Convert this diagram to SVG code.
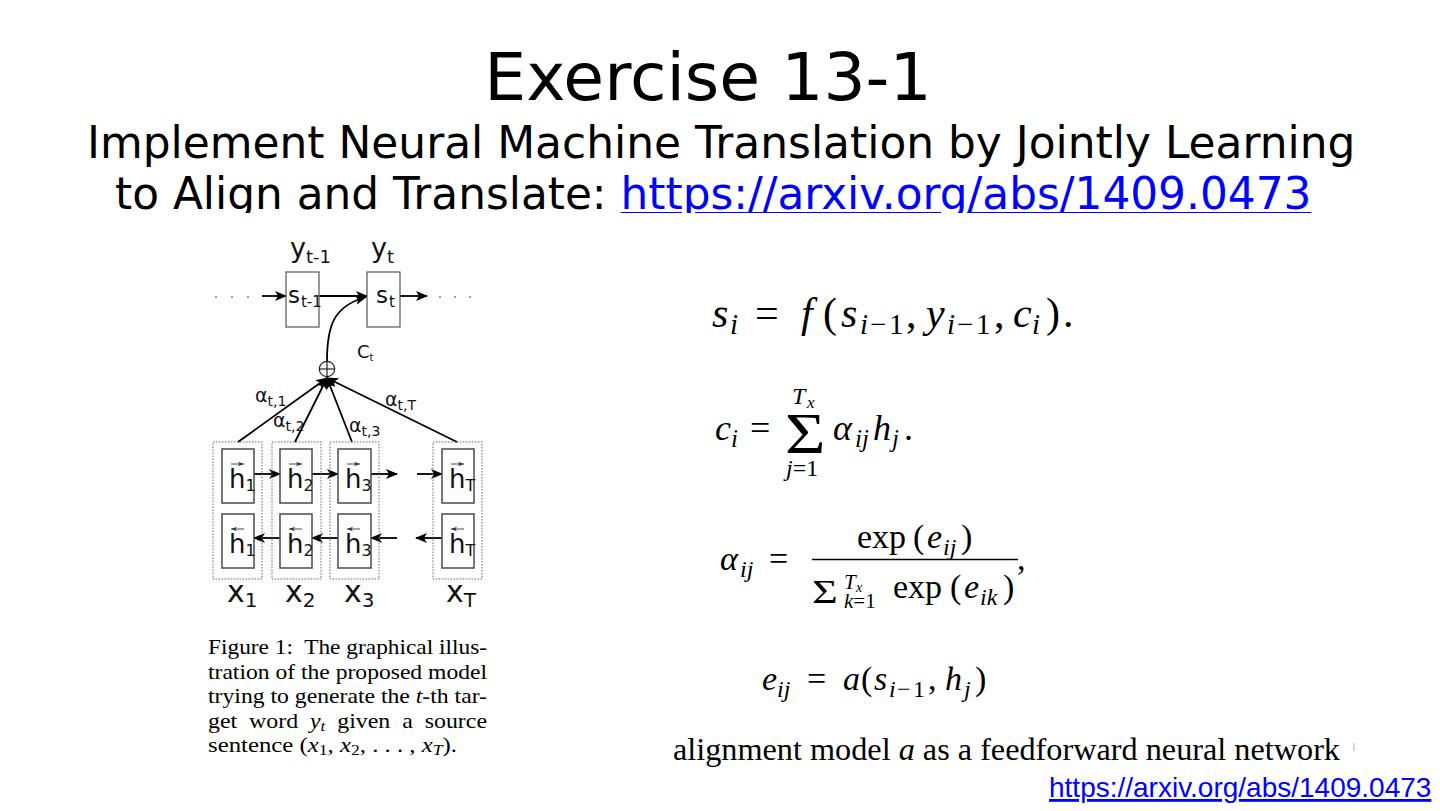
<svg xmlns="http://www.w3.org/2000/svg" width="1440" height="811" viewBox="0 0 1440 811">
<defs>
<style>
.sans{font-family:"DejaVu Sans","Liberation Sans",sans-serif;}
.serif{font-family:"Liberation Serif","Times New Roman",serif;fill:#000;}
.it{font-style:italic;}
.fig{font-family:"DejaVu Sans","Liberation Sans",sans-serif;fill:#111;}
.ibox{fill:#fff;stroke:#555;stroke-width:1.6;}
.obox{fill:none;stroke:#666;stroke-width:1;stroke-dasharray:1.5 1.5;}
.ln{fill:none;stroke:#000;stroke-width:1.8;}
.tl{fill:none;stroke:#333;stroke-width:0.9;}
.link{fill:#0000ff;text-decoration:underline;}
.dot{fill:#888;}
</style>
<marker id="ah" viewBox="0 0 12 10" refX="11" refY="5" markerWidth="12" markerHeight="10" markerUnits="userSpaceOnUse" orient="auto"><path d="M0,0 L12,5 L0,10 L3,5 z" fill="#000"/></marker>
<marker id="sa" viewBox="0 0 8 6" refX="8" refY="3" markerWidth="6" markerHeight="4.5" markerUnits="userSpaceOnUse" orient="auto"><path d="M0,0 L8,3 L0,6 L2,3 z" fill="#333"/></marker>
<clipPath id="clipT"><rect x="0" y="0" width="1440" height="213"/></clipPath>
</defs>
<rect width="1440" height="811" fill="#fff"/>

<g id="title" class="sans">
<text x="708" y="100" font-size="66.3" text-anchor="middle" fill="#000">Exercise 13-1</text>
<g clip-path="url(#clipT)">
<text x="87" y="158" font-size="43.9" fill="#000">Implement Neural Machine Translation by Jointly Learning</text>
<text x="115" y="209" font-size="43.8" fill="#000" xml:space="preserve">to Align and Translate: <tspan class="link">https://arxiv.org/abs/1409.0473</tspan></text>
</g>
</g>

<g id="figure">
<g id="connectors">
<circle class="dot" cx="216" cy="297" r="1.1"/><circle class="dot" cx="232" cy="297" r="1.1"/><circle class="dot" cx="248" cy="297" r="1.1"/>
<circle class="dot" cx="440" cy="297" r="1.1"/><circle class="dot" cx="455" cy="297" r="1.1"/><circle class="dot" cx="470" cy="297" r="1.1"/>
<line class="ln" x1="262" y1="296" x2="286" y2="296" marker-end="url(#ah)"/>
<line class="ln" x1="319" y1="296" x2="367" y2="296" marker-end="url(#ah)"/>
<line class="ln" x1="400" y1="296" x2="427" y2="296" marker-end="url(#ah)"/>
<path class="ln" d="M327,361 C327,325 334,306 366,297" marker-end="url(#ah)"/>
<line class="ln" x1="238" y1="442" x2="327" y2="378" marker-end="url(#ah)"/>
<line class="ln" x1="295" y1="442" x2="327" y2="378" marker-end="url(#ah)"/>
<line class="ln" x1="352" y1="442" x2="327" y2="378" marker-end="url(#ah)"/>
<line class="ln" x1="457" y1="442" x2="327" y2="378" marker-end="url(#ah)"/>
<line class="ln" x1="254" y1="474" x2="280" y2="474" marker-end="url(#ah)"/>
<line class="ln" x1="312" y1="474" x2="338" y2="474" marker-end="url(#ah)"/>
<line class="ln" x1="371" y1="474" x2="397" y2="474" marker-end="url(#ah)"/>
<line class="ln" x1="417" y1="474" x2="442" y2="474" marker-end="url(#ah)"/>
<line class="ln" x1="280" y1="538" x2="254" y2="538" marker-end="url(#ah)"/>
<line class="ln" x1="338" y1="538" x2="312" y2="538" marker-end="url(#ah)"/>
<line class="ln" x1="397" y1="538" x2="371" y2="538" marker-end="url(#ah)"/>
<line class="ln" x1="442" y1="538" x2="416" y2="538" marker-end="url(#ah)"/>
</g>

<g id="node-st1">
<rect x="286" y="272" width="33" height="55" fill="#fff" stroke="#555" stroke-width="1.2"/>
<text class="fig" x="288" y="303" font-size="23">s<tspan font-size="15" dy="4" dx="1">t-1</tspan></text>
<text class="fig" x="290" y="257" font-size="27">y<tspan font-size="18" dy="6">t-1</tspan></text>
</g>
<g id="node-st">
<rect x="367" y="272" width="33" height="55" fill="#fff" stroke="#555" stroke-width="1.2"/>
<text class="fig" x="376" y="303" font-size="23">s<tspan font-size="15" dy="4" dx="1">t</tspan></text>
<text class="fig" x="371" y="257" font-size="27">y<tspan font-size="18" dy="6">t</tspan></text>
</g>
<g id="node-sum">
<circle cx="327" cy="369" r="7.7" fill="#fff" stroke="#222" stroke-width="1.2"/>
<line x1="319.3" y1="369" x2="334.7" y2="369" stroke="#222" stroke-width="1.2"/>
<line x1="327" y1="361.3" x2="327" y2="376.7" stroke="#222" stroke-width="1.2"/>
<text class="fig" x="357" y="358" font-size="18">C<tspan font-size="10" dy="3">t</tspan></text>
</g>
<g id="alpha-labels">
<text class="fig" x="255" y="402" font-size="19">α<tspan font-size="14" dy="4">t,1</tspan></text>
<text class="fig" x="273" y="427" font-size="19">α<tspan font-size="14" dy="4">t,2</tspan></text>
<text class="fig" x="349" y="432" font-size="19">α<tspan font-size="14" dy="4">t,3</tspan></text>
<text class="fig" x="385" y="406" font-size="19">α<tspan font-size="14" dy="4">t,T</tspan></text>
</g>

<g id="col1">
<rect class="obox" x="213" y="442" width="49" height="137"/>
<rect class="ibox" x="222" y="449" width="32" height="54"/>
<rect class="ibox" x="222" y="514" width="32" height="54"/>
<line class="tl" x1="231" y1="464" x2="244" y2="464" marker-end="url(#sa)"/>
<text class="fig" x="229" y="488" font-size="26">h<tspan font-size="16" dy="3">1</tspan></text>
<line class="tl" x1="244" y1="529" x2="231" y2="529" marker-end="url(#sa)"/>
<text class="fig" x="229" y="553" font-size="26">h<tspan font-size="16" dy="3">1</tspan></text>
<text class="fig" x="227" y="602" font-size="30">x<tspan font-size="20" dy="5">1</tspan></text>
</g>
<g id="col2">
<rect class="obox" x="272" y="442" width="49" height="137"/>
<rect class="ibox" x="280" y="449" width="32" height="54"/>
<rect class="ibox" x="280" y="514" width="32" height="54"/>
<line class="tl" x1="289" y1="464" x2="302" y2="464" marker-end="url(#sa)"/>
<text class="fig" x="287" y="488" font-size="26">h<tspan font-size="16" dy="3">2</tspan></text>
<line class="tl" x1="302" y1="529" x2="289" y2="529" marker-end="url(#sa)"/>
<text class="fig" x="287" y="553" font-size="26">h<tspan font-size="16" dy="3">2</tspan></text>
<text class="fig" x="285" y="602" font-size="30">x<tspan font-size="20" dy="5">2</tspan></text>
</g>
<g id="col3">
<rect class="obox" x="330" y="442" width="49" height="137"/>
<rect class="ibox" x="338" y="449" width="33" height="54"/>
<rect class="ibox" x="338" y="514" width="33" height="54"/>
<line class="tl" x1="347" y1="464" x2="360" y2="464" marker-end="url(#sa)"/>
<text class="fig" x="345" y="488" font-size="26">h<tspan font-size="16" dy="3">3</tspan></text>
<line class="tl" x1="360" y1="529" x2="347" y2="529" marker-end="url(#sa)"/>
<text class="fig" x="345" y="553" font-size="26">h<tspan font-size="16" dy="3">3</tspan></text>
<text class="fig" x="344" y="602" font-size="30">x<tspan font-size="20" dy="5">3</tspan></text>
</g>
<g id="colT">
<rect class="obox" x="433" y="442" width="49" height="137"/>
<rect class="ibox" x="442" y="449" width="32" height="54"/>
<rect class="ibox" x="442" y="514" width="32" height="54"/>
<line class="tl" x1="451" y1="464" x2="464" y2="464" marker-end="url(#sa)"/>
<text class="fig" x="449" y="488" font-size="26">h<tspan font-size="16" dy="3">T</tspan></text>
<line class="tl" x1="464" y1="529" x2="451" y2="529" marker-end="url(#sa)"/>
<text class="fig" x="449" y="553" font-size="26">h<tspan font-size="16" dy="3">T</tspan></text>
<text class="fig" x="446" y="602" font-size="30">x<tspan font-size="20" dy="5">T</tspan></text>
</g>
</g>

<g id="caption" class="serif" font-size="21">
<text x="208" y="654" textLength="279" lengthAdjust="spacingAndGlyphs" xml:space="preserve">Figure 1:  The graphical illus-</text>
<text x="208" y="678.5" textLength="279" lengthAdjust="spacingAndGlyphs">tration of the proposed model</text>
<text x="208" y="703" textLength="279" lengthAdjust="spacingAndGlyphs">trying to generate the <tspan class="it">t</tspan>-th tar-</text>
<text x="208" y="727.5" textLength="279" lengthAdjust="spacingAndGlyphs" xml:space="preserve">get  word  <tspan class="it">y</tspan><tspan font-size="15" dy="3" class="it">t</tspan><tspan dy="-3">  given  a  source</tspan></text>
<text x="208" y="752" textLength="249" lengthAdjust="spacingAndGlyphs">sentence (<tspan class="it">x</tspan><tspan font-size="15" dy="3">1</tspan><tspan dy="-3">, </tspan><tspan class="it">x</tspan><tspan font-size="15" dy="3">2</tspan><tspan dy="-3">, . . . , </tspan><tspan class="it">x</tspan><tspan font-size="15" dy="3" class="it">T</tspan><tspan dy="-3">).</tspan></text>
</g>

<g id="eq1" class="serif" font-size="42">
<text x="712" y="327" class="it">s</text>
<text x="730" y="334" font-size="29" class="it">i</text>
<text x="755" y="327">=</text>
<text x="801" y="327" class="it">f</text>
<text x="823" y="327">(</text>
<text x="841" y="327" class="it">s</text>
<text x="860" y="334" font-size="29" class="it">i</text>
<text x="870" y="334" font-size="29">−</text>
<text x="889" y="334" font-size="29">1</text>
<text x="906" y="327">,</text>
<text x="926" y="327" class="it">y</text>
<text x="947" y="334" font-size="29" class="it">i</text>
<text x="957" y="334" font-size="29">−</text>
<text x="976" y="334" font-size="29">1</text>
<text x="994" y="327">,</text>
<text x="1013" y="327" class="it">c</text>
<text x="1032" y="334" font-size="29" class="it">i</text>
<text x="1046" y="327">)</text>
<text x="1063" y="327">.</text>
</g>

<g id="eq2" class="serif" font-size="36">
<text x="715" y="440" class="it">c</text>
<text x="731" y="447" font-size="25" class="it">i</text>
<text x="750" y="440">=</text>
<text transform="translate(785,453) scale(1.22,1)" font-size="57">Σ</text>
<text x="792" y="404" font-size="24" class="it">T</text>
<text x="807" y="408" font-size="17" class="it">x</text>
<text x="786" y="476" font-size="24"><tspan class="it">j</tspan>=1</text>
<text x="833" y="440" class="it">α</text>
<text x="855" y="447" font-size="25" class="it">ij</text>
<text x="873" y="440" class="it">h</text>
<text x="892" y="447" font-size="25" class="it">j</text>
<text x="904" y="440">.</text>
</g>

<g id="eq3" class="serif" font-size="34">
<text x="720" y="570" class="it">α</text>
<text x="740" y="577" font-size="24" class="it">ij</text>
<text x="769" y="570">=</text>
<line x1="812" y1="559.5" x2="1018" y2="559.5" stroke="#000" stroke-width="1.4"/>
<text x="857" y="548">exp</text>
<text x="913" y="548">(</text>
<text x="927" y="548" class="it">e</text>
<text x="943" y="555" font-size="24" class="it">ij</text>
<text x="961" y="548">)</text>
<text transform="translate(812,603) scale(1.3,1)" font-size="34">Σ</text>
<text x="844" y="589" font-size="21" class="it">T</text>
<text x="856" y="592" font-size="14" class="it">x</text>
<text x="844" y="608" font-size="21"><tspan class="it">k</tspan>=1</text>
<text x="893" y="598">exp</text>
<text x="950" y="598">(</text>
<text x="964" y="598" class="it">e</text>
<text x="980" y="605" font-size="24" class="it">ik</text>
<text x="1003" y="598">)</text>
<text x="1017" y="570">,</text>
</g>

<g id="eq4" class="serif" font-size="34">
<text x="762" y="690" class="it">e</text>
<text x="777" y="697" font-size="24" class="it">ij</text>
<text x="807" y="690">=</text>
<text x="843" y="690" class="it">a</text>
<text x="861" y="690">(</text>
<text x="874" y="690" class="it">s</text>
<text x="889" y="697" font-size="24" class="it">i</text>
<text x="897" y="697" font-size="24">−</text>
<text x="913" y="697" font-size="24">1</text>
<text x="928" y="690">,</text>
<text x="945" y="690" class="it">h</text>
<text x="964" y="697" font-size="24" class="it">j</text>
<text x="975" y="690">)</text>
</g>

<g id="bottom">
<text class="serif" x="673" y="760" font-size="31" textLength="667" lengthAdjust="spacingAndGlyphs">alignment model <tspan class="it">a</tspan> as a feedforward neural network</text>
<line x1="1354" y1="743" x2="1354" y2="751" stroke="#bbb" stroke-width="1.2"/>
<text x="1049" y="797" font-size="28" font-family="Liberation Sans, Arial, sans-serif" class="link">https://arxiv.org/abs/1409.0473</text>
</g>
</svg>
